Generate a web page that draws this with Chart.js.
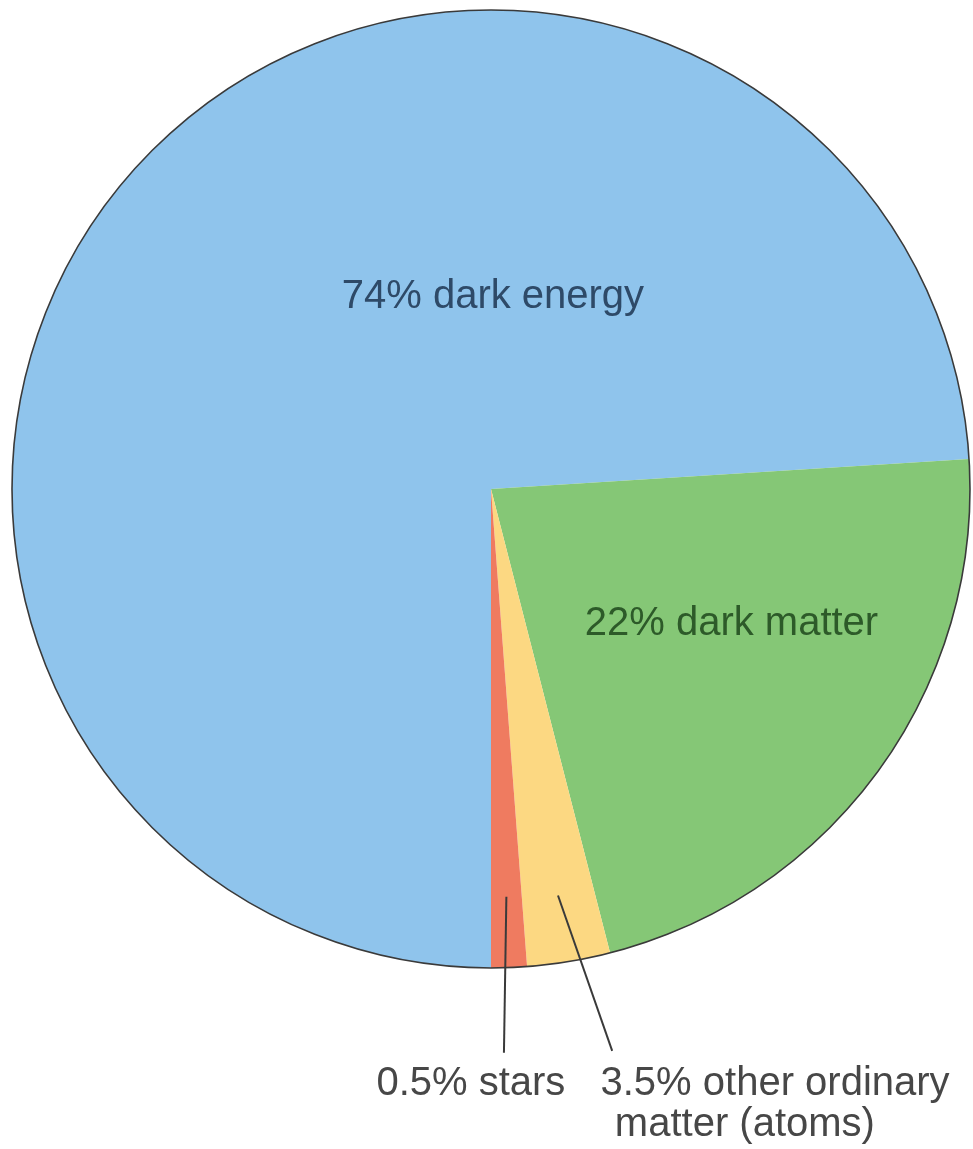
<!DOCTYPE html>
<html>
<head>
<meta charset="utf-8">
<title>Composition of the universe</title>
<script src="https://cdn.jsdelivr.net/npm/chart.js@4.4.1/dist/chart.umd.min.js"></script>
<style>
  html, body { margin: 0; padding: 0; background: #fff; }
  #wrap { width: 973px; height: 1149px; }
</style>
</head>
<body>
<div id="wrap"><canvas id="pie-chart" width="973" height="1149"></canvas></div>
<script>
// slice order runs clockwise from the bottom of the circle
const categories = ["dark energy", "dark matter", "other ordinary matter (atoms)", "stars"];
const labelText = ["74% dark energy", "22% dark matter", "3.5% other ordinary\nmatter (atoms)", "0.5% stars"];
// angles as drawn in the picture (the small slices are drawn a bit wider than their labels say)
const shares = [74, 22, 2.8, 1.2];
const sliceColors = ["#8fc4ec", "#85c776", "#fcd882", "#ef7b60"];

const FONT = "40px 'Liberation Sans', Arial, Helvetica, sans-serif";

const labelPlugin = {
  id: "sliceLabels",
  afterDatasetsDraw(chart) {
    const ctx = chart.ctx;
    const arcs = chart.getDatasetMeta(0).data;
    const cx = arcs[0].x, cy = arcs[0].y, r = arcs[0].outerRadius;

    // outline of the whole pie
    ctx.save();
    ctx.beginPath();
    ctx.arc(cx, cy, r, 0, Math.PI * 2);
    ctx.lineWidth = 1.6;
    ctx.strokeStyle = "#3a3a3a";
    ctx.stroke();

    ctx.font = FONT;
    ctx.textAlign = "center";
    ctx.textBaseline = "alphabetic";

    // labels inside the big slices
    ctx.fillStyle = "#2e4a68";
    ctx.fillText(labelText[0], cx + 0.004 * r, cy - 0.378 * r);
    ctx.fillStyle = "#2d5a29";
    ctx.fillText(labelText[1], cx + 0.502 * r, cy + 0.305 * r);

    // leader lines from the thin slices down to their labels
    function leader(arc, depth, ex, ey) {
      const mid = (arc.startAngle + arc.endAngle) / 2;
      const sx = cx + Math.cos(mid) * depth * r;
      const sy = cy + Math.sin(mid) * depth * r;
      ctx.beginPath();
      ctx.moveTo(sx, sy);
      ctx.lineTo(ex, ey);
      ctx.lineWidth = 2;
      ctx.strokeStyle = "#3a3a3a";
      ctx.stroke();
    }
    leader(arcs[3], 0.852, cx + 0.027 * r, cy + 1.177 * r);
    leader(arcs[2], 0.86, cx + 0.253 * r, cy + 1.173 * r);

    ctx.fillStyle = "#474747";
    ctx.fillText(labelText[3], cx - 0.042 * r, cy + 1.265 * r);
    const lines = labelText[2].split("\n");
    ctx.fillText(lines[0], cx + 0.593 * r, cy + 1.265 * r);
    ctx.fillText(lines[1], cx + 0.53 * r, cy + 1.35 * r);
    ctx.restore();
  }
};

new Chart(document.getElementById("pie-chart"), {
  type: "pie",
  data: {
    labels: categories,
    datasets: [{
      data: shares,
      backgroundColor: sliceColors,
      borderWidth: 0,
      hoverBorderWidth: 0,
      hoverOffset: 0,
      offset: 0
    }]
  },
  options: {
    responsive: false,
    animation: false,
    rotation: 180,
    layout: { padding: { left: 12, right: 3, top: 10, bottom: 181 } },
    plugins: {
      legend: { display: false },
      title: { display: false },
      tooltip: { enabled: false }
    }
  },
  plugins: [labelPlugin]
});
</script>
</body>
</html>
